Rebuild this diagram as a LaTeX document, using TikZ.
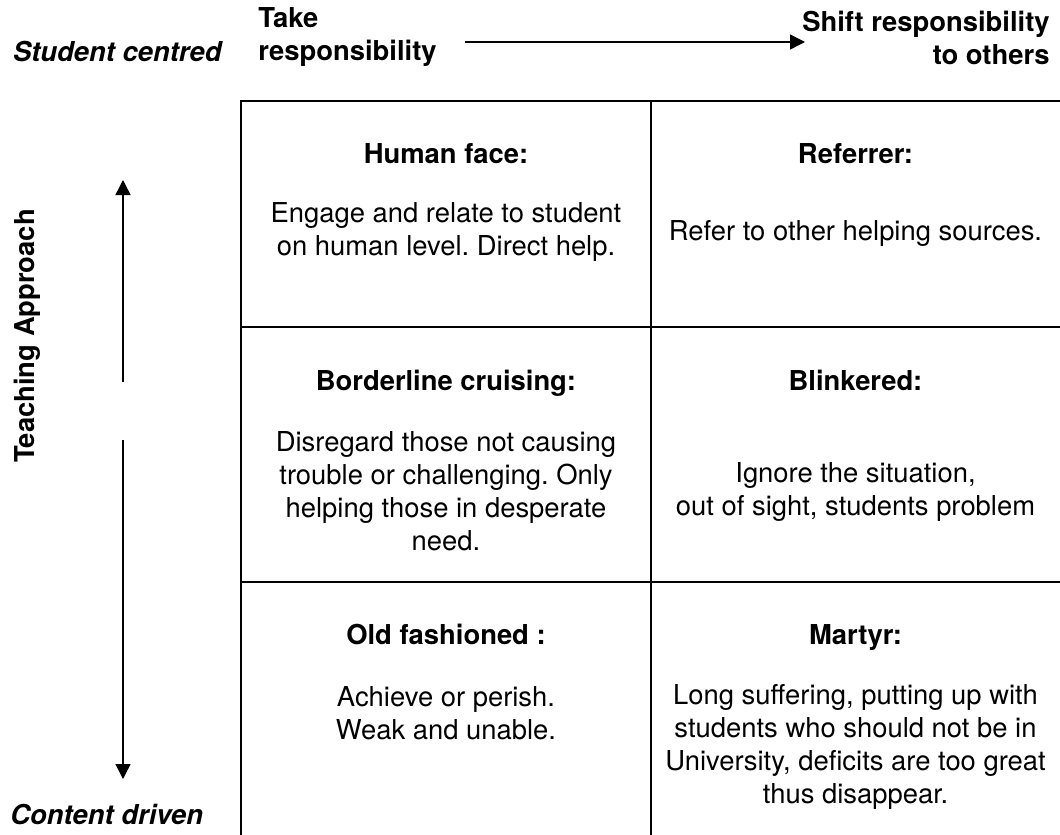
\documentclass[tikz,border=0pt]{standalone}
\usepackage{fontspec}
\setmainfont{TeX Gyre Heros}
\usetikzlibrary{arrows.meta,positioning}
\frenchspacing

\begin{document}
\begin{tikzpicture}[x=0.5pt,y=-0.5pt,
    font=\fontsize{13.7}{16.5}\selectfont,
    head/.style={font=\fontsize{13.7}{16.5}\selectfont\bfseries,inner sep=0pt},
    title/.style={head,anchor=base},
    body/.style={align=center,inner sep=0pt},
    axis/.style={-{Triangle[width=7.5pt,length=7.5pt]},line width=0.7pt},
    frame/.style={line width=1.3pt}, grid line/.style={line width=0.7pt}]
  \useasboundingbox (0,0) rectangle (1060,835);

  % the grid
  \draw[frame] (241,835) -- (241,101) -- (1060,101);
  \draw[grid line] (651,101) -- (651,835);
  \draw[grid line] (241,327) -- (1060,327);
  \draw[grid line] (241,582) -- (1060,582);

  % axis labels
  \node[head,anchor=east,font=\fontsize{13.7}{16.5}\selectfont\bfseries\itshape] (student) at (222,52) {Student centred};
  \node[head,anchor=west,align=left] (take) at (258,37.5) {Take\\responsibility};
  \node[head,anchor=east,align=right] (shift) at (1050,37.5) {Shift responsibility\\to others};
  \node[head,rotate=90] (approach) at (27,336) {Teaching Approach};
  \node[head,anchor=west,font=\fontsize{13.7}{16.5}\selectfont\bfseries\itshape] (content) at (10,815) {Content driven};

  \coordinate (hstart) at (465,42);
  \coordinate (hend) at (805,42);
  \coordinate (upstart) at (123,382);
  \coordinate (upend) at (123,180);
  \coordinate (downstart) at (123,440);
  \coordinate (downend) at (123,779);
  \draw[axis] (hstart) -- (hend);
  \draw[axis] (upstart) -- (upend);
  \draw[axis] (downstart) -- (downend);

  % cells
  \node[title] (human) at (446,163) {Human face:};
  \node[body] (humantxt) at (446,231.5) {Engage and relate to student\\on human level. Direct help.};
  \node[title] (referrer) at (855.5,163) {Referrer:};
  \node[body] (referrertxt) at (855.5,233) {Refer to other helping sources.};

  \node[title] (border) at (446,390) {Borderline cruising:};
  \node[body] (bordertxt) at (446,491.5) {Disregard those not causing\\trouble or challenging. Only\\helping those in desperate\\need.};
  \node[title] (blink) at (855.5,390) {Blinkered:};
  \node[body] (blinktxt) at (855.5,492) {Ignore the situation,\\out of sight, students problem};

  \node[title] (old) at (446,644) {Old fashioned :};
  \node[body] (oldtxt) at (446,713.5) {Achieve or perish.\\Weak and unable.};
  \node[title] (martyr) at (855.5,644) {Martyr:};
  \node[body] (martyrtxt) at (855.5,746.5) {Long suffering, putting up with\\students who should not be in\\University, deficits are too great\\thus disappear.};
\end{tikzpicture}
\end{document}
